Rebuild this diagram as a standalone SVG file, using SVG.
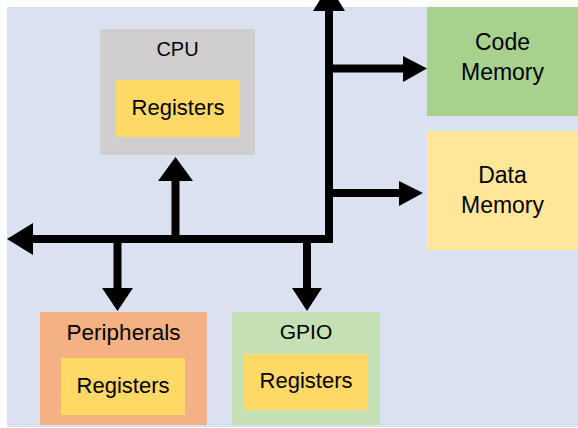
<svg xmlns="http://www.w3.org/2000/svg" width="578" height="428" viewBox="0 0 578 428">
  <style>
    text { font-family: "Liberation Sans", Arial, sans-serif; fill: #000; text-anchor: middle; }
    .t { font-size: 22px; }
    .mem { font-size: 23px; }
    .reg { fill: #FFD966; }
    .bus { stroke: #000; stroke-width: 8; fill: none; }
    .head { fill: #000; }
  </style>
  <rect x="0" y="0" width="578" height="428" fill="#FFFFFF"/>
  <rect x="7" y="7" width="571" height="420" fill="#DAE1F1"/>

  <g id="cpu">
    <rect x="100" y="29" width="155" height="126" fill="#D0CECE"/>
    <text x="177.5" y="56" font-size="20">CPU</text>
    <rect class="reg" x="116" y="80" width="124" height="57"/>
    <text class="t" x="178" y="115">Registers</text>
  </g>

  <g id="code-memory">
    <rect x="427" y="7" width="151" height="109" fill="#A9D18E"/>
    <text class="mem" x="502.5" y="50">Code</text>
    <text class="mem" x="502.5" y="80">Memory</text>
  </g>

  <g id="data-memory">
    <rect x="427" y="131" width="151" height="119" fill="#FFE699"/>
    <text class="mem" x="502.5" y="183">Data</text>
    <text class="mem" x="502.5" y="213">Memory</text>
  </g>

  <g id="peripherals">
    <rect x="40" y="312" width="167" height="113" fill="#F4B183"/>
    <text x="123.5" y="340" font-size="22.5">Peripherals</text>
    <rect class="reg" x="61" y="358" width="124" height="57"/>
    <text class="t" x="123" y="393">Registers</text>
  </g>

  <g id="gpio">
    <rect x="232" y="312" width="148" height="113" fill="#C5E0B4"/>
    <text x="306" y="339" font-size="21">GPIO</text>
    <rect class="reg" x="244" y="354" width="124" height="56"/>
    <text class="t" x="306" y="388">Registers</text>
  </g>

  <g id="connectors">
    <!-- main bus: left arrow, corner, and vertical trunk to the top -->
    <path class="bus" d="M30 239 H329 V10" stroke-linejoin="miter"/>
    <polygon class="head" points="7,239 33,223 33,255"/>
    <polygon class="head" points="329,-15 313,11 345,11"/>
    <!-- branch to Code Memory -->
    <path class="bus" d="M329 68.5 H405"/>
    <polygon class="head" points="427,68.5 403,56 403,82"/>
    <!-- branch to Data Memory -->
    <path class="bus" d="M329 193 H401"/>
    <polygon class="head" points="423,193 399,181 399,206"/>
    <!-- branch up to CPU -->
    <path class="bus" d="M175.5 243 V179"/>
    <polygon class="head" points="175.5,157 158,181 193,181"/>
    <!-- branch down to Peripherals -->
    <path class="bus" d="M117.5 239 V290"/>
    <polygon class="head" points="117.5,311 102,288 133,288"/>
    <!-- branch down to GPIO -->
    <path class="bus" d="M307 239 V290"/>
    <polygon class="head" points="307,311 292,288 322,288"/>
  </g>
</svg>
